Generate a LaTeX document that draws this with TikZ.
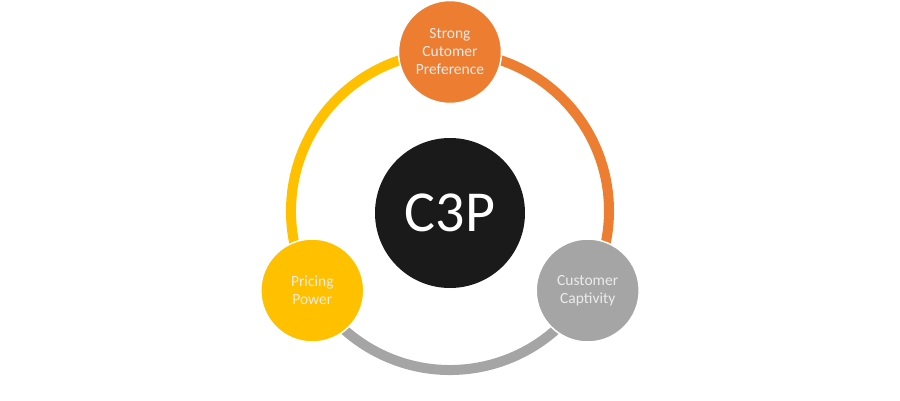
\documentclass[tikz,border=0pt]{standalone}
\usepackage{fontspec}
\setmainfont{Carlito}
\usetikzlibrary{backgrounds}
\definecolor{pref}{HTML}{ED7D31}
\definecolor{price}{HTML}{FFC000}
\definecolor{capt}{HTML}{A5A5A5}
\definecolor{core}{HTML}{1A1A1A}
\begin{document}
\begin{tikzpicture}[x=1pt, y=1pt,
  ring/.style={line width=10pt},
  bubble/.style={circle, draw=white, line width=1.5pt, minimum size=103pt, inner sep=0pt,
    align=center, text=white!92!black, font=\fontsize{15.5}{18}\selectfont}]
  \useasboundingbox (0,0) rectangle (900,400);

  \coordinate (o) at (450,189);

  \node[bubble, fill=pref] (scp) at ([shift={(90:159)}]o) {Strong\\Cutomer\\Preference};
  \node[bubble, fill=price] (pp) at ([shift={(210:159)}]o) {Pricing\\Power};
  \node[bubble, fill=capt] (cc) at ([shift={(330:159)}]o) {Customer\\Captivity};

  \node[circle, fill=core, minimum size=150pt, text=white,
    font=\fontsize{58}{64}\selectfont] (c3p) at ([yshift=-2pt]o) {C3P};

  % ring segments behind the bubbles
  \begin{scope}[on background layer]
    \draw[ring, price] (pp.center) arc[start angle=210, end angle=90, radius=159];
    \draw[ring, pref] (scp.center) arc[start angle=90, end angle=-30, radius=159];
    \draw[ring, capt] (cc.center) arc[start angle=-30, end angle=-150, radius=159];
  \end{scope}
\end{tikzpicture}
\end{document}
